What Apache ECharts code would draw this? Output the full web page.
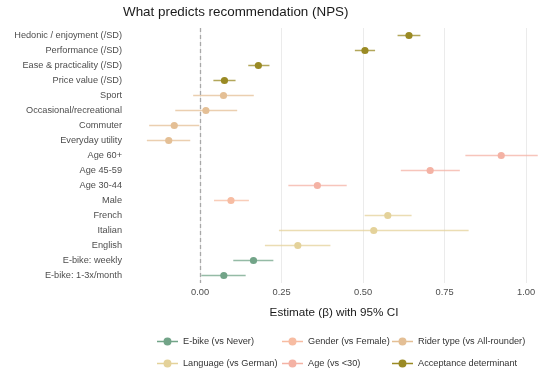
<!DOCTYPE html>
<html>
<head>
<meta charset="utf-8">
<script src="https://cdn.jsdelivr.net/npm/echarts@6/dist/echarts.min.js"></script>
<style>html,body{margin:0;padding:0;background:#fff}#c{width:541px;height:371px}</style>
</head>
<body>
<div id="c"></div>
<script>
const categories = ['Hedonic / enjoyment (/SD)', 'Performance (/SD)', 'Ease & practicality (/SD)', 'Price value (/SD)', 'Sport', 'Occasional/recreational', 'Commuter', 'Everyday utility', 'Age 60+', 'Age 45-59', 'Age 30-44', 'Male', 'French', 'Italian', 'English', 'E-bike: weekly', 'E-bike: 1-3x/month'];
const estimates = [0.641, 0.506, 0.179, 0.075, 0.072, 0.018, -0.079, -0.096, 0.924, 0.706, 0.360, 0.095, 0.576, 0.533, 0.300, 0.164, 0.073];
const ciLow = [0.606, 0.475, 0.148, 0.041, -0.021, -0.076, -0.156, -0.163, 0.814, 0.616, 0.271, 0.043, 0.505, 0.242, 0.199, 0.102, 0.004];
const ciHigh = [0.676, 0.537, 0.213, 0.109, 0.165, 0.114, -0.002, -0.030, 1.036, 0.797, 0.450, 0.150, 0.649, 0.824, 0.400, 0.225, 0.140];
const groupOf = ['Acceptance determinant', 'Acceptance determinant', 'Acceptance determinant', 'Acceptance determinant',
  'Rider type (vs All-rounder)', 'Rider type (vs All-rounder)', 'Rider type (vs All-rounder)', 'Rider type (vs All-rounder)',
  'Age (vs <30)', 'Age (vs <30)', 'Age (vs <30)', 'Gender (vs Female)',
  'Language (vs German)', 'Language (vs German)', 'Language (vs German)', 'E-bike (vs Never)', 'E-bike (vs Never)'];
const groupNames = ['E-bike (vs Never)', 'Gender (vs Female)', 'Rider type (vs All-rounder)', 'Language (vs German)', 'Age (vs <30)', 'Acceptance determinant'];
const groupColors = ['#72a488', '#f7bca2', '#e4bf95', '#e4d29a', '#f4b2a4', '#9a8a24'];
const xTicks = [0, 0.25, 0.5, 0.75, 1.0];

const FONT = 'Liberation Sans, Arial, sans-serif';
const legendPos = [[157, 336], [282, 336], [392, 336], [157, 358], [282, 358], [392, 358]];
const iconPath = 'path://M0,4.3L21,4.3L21,5.7L0,5.7Z M10.5,1A4,4 0 1,1 10.49,1Z';

const series = groupNames.map((g, gi) => ({
  type: 'custom',
  name: g,
  coordinateSystem: 'cartesian2d',
  encode: { x: [1, 2, 3], y: 0 },
  z: 3,
  data: categories.map((c, i) => [i, estimates[i], ciLow[i], ciHigh[i]]).filter((d) => groupOf[d[0]] === g),
  itemStyle: { color: groupColors[gi] },
  renderItem: function (params, api) {
    const yi = api.value(0);
    const p = api.coord([api.value(1), yi]);
    const a = api.coord([api.value(2), yi]);
    const b = api.coord([api.value(3), yi]);
    const col = groupColors[gi];
    return {
      type: 'group',
      children: [
        { type: 'line', shape: { x1: a[0], y1: a[1], x2: b[0], y2: b[1] }, style: { stroke: col, lineWidth: 1.5, opacity: 0.75 } },
        { type: 'circle', shape: { cx: p[0], cy: p[1], r: 3.6 }, style: { fill: col } }
      ]
    };
  }
}));

series.unshift({
  type: 'custom',
  name: 'zero',
  data: [],
  z: 1,
  renderItem: function () { return null; },
  markLine: {
    silent: true,
    symbol: 'none',
    label: { show: false },
    lineStyle: { color: '#a8a8a8', type: [4, 3], width: 1.3 },
    data: [{ xAxis: 0 }]
  }
});

const option = {
  backgroundColor: '#ffffff',
  animation: false,
  title: {
    text: 'What predicts recommendation (NPS)',
    left: 123, top: 6, padding: 0,
    textStyle: { fontFamily: FONT, fontSize: 13.4, fontWeight: 'normal', color: '#1a1a1a' }
  },
  grid: { left: 127, top: 28, width: 414, height: 255, containLabel: false },
  xAxis: {
    type: 'value', min: -0.224, max: 1.046,
    name: 'Estimate (\u03b2) with 95% CI', nameLocation: 'middle', nameGap: 24,
    nameTextStyle: { fontFamily: FONT, fontSize: 11.7, color: '#1a1a1a' },
    axisLine: { show: false },
    axisTick: { show: false, customValues: xTicks },
    axisLabel: { customValues: xTicks, margin: 5, fontFamily: FONT, fontSize: 9.3, color: '#4d4d4d', formatter: (v) => v.toFixed(2) },
    splitLine: { show: true, lineStyle: { color: '#ebebeb', width: 1 } }
  },
  yAxis: {
    type: 'category', data: categories, inverse: true,
    axisLine: { show: false }, axisTick: { show: false },
    axisLabel: { margin: 5, fontFamily: FONT, fontSize: 9.2, color: '#4d4d4d' },
    splitLine: { show: false }
  },
  legend: groupNames.map((g, gi) => ({
    data: [{ name: g, icon: iconPath }],
    left: legendPos[gi][0], top: legendPos[gi][1] + 1,
    padding: 0, itemWidth: 21, itemHeight: 10, itemGap: 0,
    selectedMode: false,
    textStyle: { fontFamily: FONT, fontSize: 9.2, color: '#333333' }
  })),
  series: series
};

const chart = echarts.init(document.getElementById('c'), null, { renderer: 'canvas' });
chart.setOption(option);
</script>
</body>
</html>
